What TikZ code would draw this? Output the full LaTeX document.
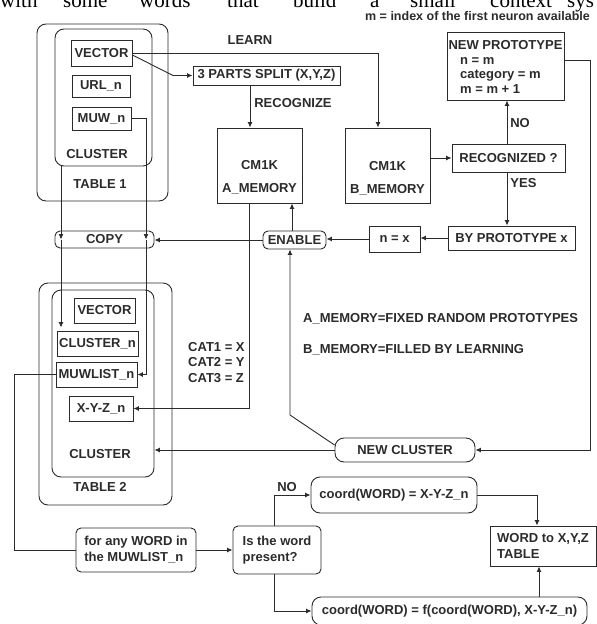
\documentclass[tikz,border=0pt]{standalone}
\usepackage{fontspec}
\setmainfont{Liberation Sans}
\newfontfamily\bodyserif{Liberation Serif}
\usetikzlibrary{arrows.meta}
\definecolor{ink}{HTML}{2B2B2B}
\tikzset{
  line/.style={draw=ink, line width=0.9pt},
  arr/.style={line, -{Latex[length=5.5pt,width=5pt]}},
  plainbox/.style={draw=ink, line width=0.9pt, rectangle, inner sep=0pt},
  roundbox/.style={plainbox, rounded corners=5pt},
  pillbox/.style={plainbox, rounded corners=9pt},
  tablebox/.style={plainbox, rounded corners=9pt},
  lbl/.style={inner sep=0pt},
}
\begin{document}
\begin{tikzpicture}[x=1pt, y=-1pt,
  font=\fontsize{13}{16}\selectfont\bfseries,
  every node/.append style={text=ink}]
\useasboundingbox (0,0) rectangle (597,624);
\clip (0,0) rectangle (597,624);

% running text of the page above the figure
\begin{scope}[every node/.append style={anchor=base west, inner sep=0pt, text=black,
    font=\bodyserif\fontsize{21}{21}\selectfont}]
  \node (w1) at (0,7.5) {with};
  \node (w2) at (63,7.5) {some};
  \node (w3) at (139,7.5) {words};
  \node (w4) at (227,7.5) {that};
  \node (w5) at (293,7.5) {build};
  \node (w6) at (370,7.5) {a};
  \node (w7) at (410,7.5) {small};
  \node (w8) at (490,7.5) {context};
  \node (w9) at (567,7.5) {sys};
\end{scope}

\node[lbl, font=\fontsize{12.5}{15}\selectfont\bfseries] (mnote) at (477.5,16) {m = index of the first neuron available};

% TABLE 1
\node[tablebox, minimum width=131, minimum height=177] (t1outer) at (102.5,112.5) {};
\node[tablebox, minimum width=97, minimum height=137] (t1inner) at (103.5,97.5) {};
\node[plainbox, minimum width=61, minimum height=26] (vec1) at (101.5,53) {VECTOR};
\node[plainbox, minimum width=58, minimum height=22] (url1) at (101,86) {URL\_n};
\node[plainbox, minimum width=59, minimum height=23] (muw1) at (101.5,118.5) {MUW\_n};
\node[lbl] (clus1) at (97,154) {CLUSTER};
\node[lbl] (tab1) at (100,184) {TABLE 1};

% learning / recognition chain
\node[lbl] (learn) at (250,40) {LEARN};
\node[plainbox, minimum width=147, minimum height=19] (split) at (266.5,75.5) {3 PARTS SPLIT (X,Y,Z)};
\node[lbl] (recz) at (293,103) {RECOGNIZE};
\node[plainbox, minimum width=85, minimum height=75] (amem) at (259.5,165.5) {};
\node[lbl, align=center, font=\fontsize{13}{23}\selectfont\bfseries] (amemtxt) at (259.5,177.5) {CM1K\\A\_MEMORY};
\node[plainbox, minimum width=85, minimum height=75] (bmem) at (387.5,165.5) {};
\node[lbl, align=center, font=\fontsize{13}{23}\selectfont\bfseries] (bmemtxt) at (387.5,178) {CM1K\\B\_MEMORY};
\node[plainbox, minimum width=113, minimum height=28] (recog) at (508.5,158) {RECOGNIZED ?};
\node[plainbox, minimum width=117, minimum height=68] (np) at (505.5,66) {};
\node[lbl] (nptitle) at (505.5,45) {NEW PROTOTYPE};
\node[lbl, anchor=west, align=left, font=\fontsize{13}{14.5}\selectfont\bfseries] (npbody) at (460,75) {n = m\\category = m\\m = m + 1};
\node[lbl] (no1) at (520,123) {NO};
\node[lbl] (yes1) at (523.5,183) {YES};
\node[plainbox, minimum width=127, minimum height=24] (byp) at (511.5,238) {BY PROTOTYPE x};
\node[plainbox, minimum width=51, minimum height=26] (nx) at (394.5,239) {n = x};
\node[roundbox, minimum width=63, minimum height=18] (enable) at (294.5,240) {ENABLE};
\node[roundbox, minimum width=99, minimum height=17] (copy) at (104.5,239.5) {COPY};

\node[lbl, anchor=west] (memA) at (303,319) {A\_MEMORY=FIXED RANDOM PROTOTYPES};
\node[lbl, anchor=west] (memB) at (303,350) {B\_MEMORY=FILLED BY LEARNING};

% TABLE 2
\node[tablebox, minimum width=133, minimum height=222] (t2outer) at (105.5,394) {};
\node[tablebox, minimum width=102, minimum height=187] (t2inner) at (103,383.5) {};
\node[plainbox, minimum width=61, minimum height=25] (vec2) at (104.5,310.5) {VECTOR};
\node[plainbox, minimum width=81, minimum height=25] (clustn) at (97.5,343.5) {CLUSTER\_n};
\node[plainbox, minimum width=81, minimum height=25] (muwlist) at (96.5,374.5) {MUWLIST\_n};
\node[plainbox, minimum width=64, minimum height=25] (xyz) at (101,408.5) {X-Y-Z\_n};
\node[lbl] (clus2) at (100,454) {CLUSTER};
\node[lbl] (tab2) at (100,487) {TABLE 2};
\node[lbl, anchor=west, align=left, font=\fontsize{13}{15.5}\selectfont\bfseries] (cats) at (188,362.5) {CAT1 = X\\CAT2 = Y\\CAT3 = Z};

\node[pillbox, minimum width=140, minimum height=24] (nc) at (405,450) {NEW CLUSTER};

% word coordinates
\node[roundbox, minimum width=120, minimum height=44, align=left] (forany) at (136,550) {for any WORD in\\the MUWLIST\_n};
\node[roundbox, minimum width=88, minimum height=48, align=left] (isword) at (277,550) {Is the word\\present?};
\node[lbl] (no2) at (287,487) {NO};
\node[pillbox, minimum width=166, minimum height=36] (coord1) at (394,495) {coord(WORD) = X-Y-Z\_n};
\node[pillbox, minimum width=275, minimum height=28] (coord2) at (449.5,611) {coord(WORD) = f(coord(WORD), X-Y-Z\_n)};
\node[plainbox, minimum width=106, minimum height=40, align=left] (wordtab) at (543,546) {WORD to X,Y,Z\\TABLE\hspace*{48pt}};

% bends
\coordinate (bend) at (173,75.5);
\coordinate (npr) at (590,60);
\coordinate (kink) at (290,415);
\coordinate (mr) at (146,118.5);
\coordinate (lft) at (14,374.5);

% connectors
\draw[arr] (vec1.east) -| ([xshift=-9.5pt]bmem.north);
\draw[arr] ([yshift=-2pt]vec1.east) -- (bend) -- (split.west);
\draw[arr] ([xshift=-9.5pt]amem.north |- split.south) -- ([xshift=-9.5pt]amem.north);
\draw[arr] (bmem.east |- recog.west) -- (recog.west);
\draw[arr] ([xshift=-1.5pt]recog.north) -- ([xshift=-1.5pt]recog.north |- np.south);
\draw[arr] ([xshift=-1.5pt]recog.south) -- ([xshift=-1.5pt]recog.south |- byp.north);
\draw[arr] (byp.west) -- (nx.east |- byp.west);
\draw[arr] (nx.west) -- (enable.east |- nx.west);
\draw[arr] ([xshift=-2.5pt]enable.north) -- ([xshift=-2.5pt]enable.north |- amem.south);
\draw[arr] (enable.west) -- (copy.east |- enable.west);
\draw[arr] ([xshift=-10.5pt]amem.south) |- (xyz.east);
\draw[arr] ([yshift=6pt]np.east) -- (npr) |- (nc.east);
\draw[arr] (nc.west) -- (nc.west -| t2inner.east);
\draw[arr] ([yshift=5pt]nc.west) -- (kink) -- (kink |- enable.south);
\draw[arr] ([xshift=-42.5pt]t1inner.south) -- ([xshift=-42.5pt]t1inner.south |- copy.center);
\draw[arr] ([xshift=-42.5pt]t1inner.south |- copy.center) -- ([xshift=-42.5pt,yshift=3pt]t1inner.south |- clustn.north);
\draw[arr] (muw1.east) -- (mr) -- (mr |- copy.center);
\draw[arr] (mr |- copy.center) |- (muwlist.east);
\draw[line] (muwlist.west) -- (lft) |- (forany.west);
\draw[arr] (forany.east) -- (isword.west);
\draw[arr] ([xshift=-3pt]isword.north) |- (coord1.west);
\draw[arr] ([xshift=-3pt]isword.south) |- (coord2.west);
\draw[arr] (coord1.east) -| ([xshift=-6pt]wordtab.north);
\draw[arr] ([xshift=-4pt]wordtab.south |- coord2.north) -- ([xshift=-4pt]wordtab.south);
\end{tikzpicture}
\end{document}
